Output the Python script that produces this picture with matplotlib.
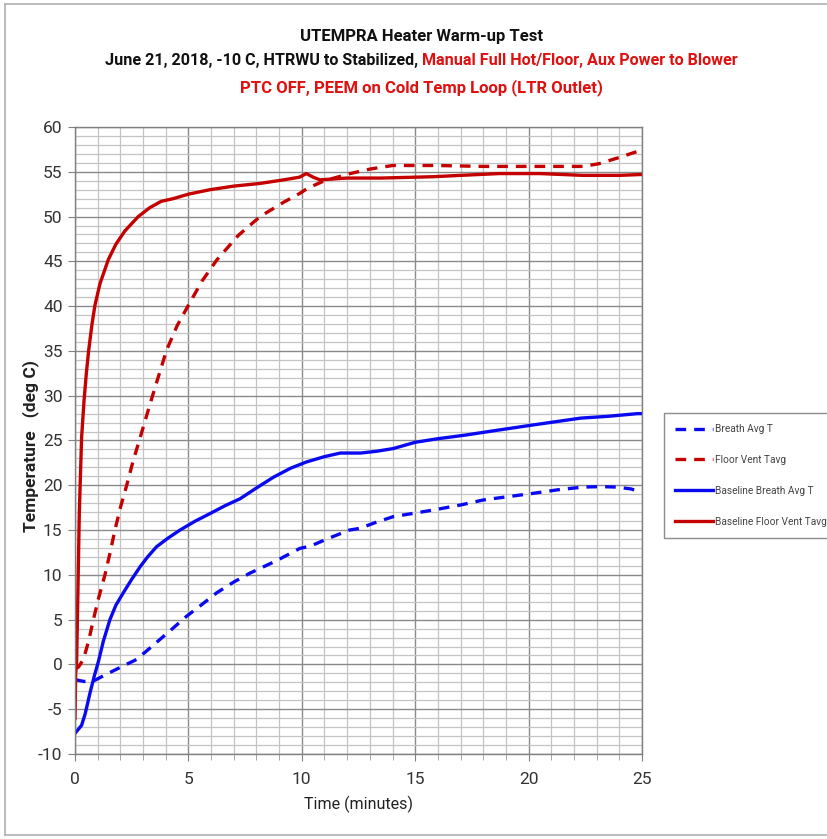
import matplotlib
matplotlib.use("Agg")
import matplotlib.pyplot as plt
from matplotlib.ticker import MultipleLocator
from matplotlib.lines import Line2D

plt.rcParams['font.family'] = ['Roboto', 'DejaVu Sans']
plt.rcParams['axes.unicode_minus'] = False

# Baseline Floor Vent Tavg (solid red)
base_floor_t = [0, 0.03, 0.07, 0.12, 0.19, 0.29, 0.4, 0.5, 0.6, 0.75, 0.88, 1.1, 1.47,
                1.8, 2.2, 2.79, 3.3, 3.8, 4.33, 5.0, 5.95, 7.0, 8.16, 9.2, 9.9, 10.2,
                10.5, 10.8, 12.0, 13.5, 15.8, 17.0, 18.7, 20.5, 22.4, 24.0, 25.0]
base_floor_v = [-6.0, -1.0, 0.2, 7.0, 16.9, 25.3, 29.5, 32.5, 35.0, 38.0, 40.1, 42.5, 45.2,
                46.9, 48.4, 50.0, 51.0, 51.7, 52.0, 52.5, 53.0, 53.4, 53.7, 54.1, 54.4, 54.8,
                54.4, 54.1, 54.3, 54.3, 54.45, 54.6, 54.8, 54.8, 54.6, 54.6, 54.7]

# Floor Vent Tavg (dashed red)
floor_t = [0, 0.15, 0.37, 0.6, 0.81, 1.05, 1.32, 1.55, 1.76, 2.0, 2.28, 2.55, 2.87, 3.3,
           3.6, 4.04, 4.5, 5.0, 5.6, 6.25, 7.2, 8.16, 9.2, 9.92, 10.28, 11.0, 12.13, 13.0,
           14.0, 16.0, 18.0, 20.0, 22.4, 23.1, 24.0, 24.77, 25.0]
floor_v = [-0.5, -0.3, 0.56, 2.6, 5.0, 7.5, 10.0, 12.5, 15.0, 17.5, 20.0, 22.6, 25.3, 29.0,
           31.5, 35.1, 37.8, 40.1, 42.8, 45.15, 47.9, 50.0, 51.6, 52.6, 53.2, 54.0, 54.8, 55.3,
           55.7, 55.7, 55.6, 55.6, 55.6, 55.9, 56.6, 57.25, 57.4]

# Baseline Breath Avg T (solid blue)
base_breath_t = [0, 0.29, 0.45, 0.66, 0.85, 1.03, 1.25, 1.54, 1.8, 2.13, 2.5, 2.87, 3.2,
                 3.6, 4.1, 4.63, 5.3, 5.96, 6.6, 7.28, 8.0, 8.75, 9.5, 10.2, 11.0, 11.7,
                 12.6, 13.3, 14.03, 15.0, 16.0, 17.2, 18.5, 20.1, 21.2, 22.3, 23.5, 24.8, 25.0]
base_breath_v = [-7.7, -6.8, -5.5, -3.2, -1.3, 0.3, 2.6, 5.0, 6.6, 8.0, 9.5, 10.9, 12.0,
                 13.15, 14.1, 15.0, 16.0, 16.85, 17.7, 18.5, 19.7, 20.9, 21.9, 22.6, 23.2, 23.6,
                 23.6, 23.8, 24.1, 24.8, 25.2, 25.6, 26.1, 26.7, 27.1, 27.5, 27.7, 28.0, 28.0]

# Breath Avg T (dashed blue)
breath_t = [0, 0.4, 0.81, 1.54, 2.1, 2.72, 3.2, 3.75, 4.3, 4.93, 5.6, 6.25, 7.0, 7.72, 8.9,
            9.92, 10.37, 11.2, 12.1, 12.57, 13.2, 14.03, 15.0, 15.8, 17.0, 18.0, 19.0, 20.2,
            21.3, 22.4, 23.2, 23.87, 24.5, 24.9]
breath_v = [-1.7, -1.9, -1.85, -0.9, -0.2, 0.56, 1.6, 2.8, 4.0, 5.4, 6.7, 8.0, 9.2, 10.2, 11.6,
            12.96, 13.2, 14.1, 15.0, 15.2, 15.8, 16.5, 16.9, 17.24, 17.8, 18.36, 18.7, 19.1,
            19.5, 19.8, 19.85, 19.8, 19.6, 19.3]

RED = '#C40000'
BLUE = '#0A0AF0'
W, H = 827, 839

fig = plt.figure(figsize=(W / 100, H / 100), dpi=100)
ax = fig.add_axes([75 / W, 1 - 754 / H, (642 - 75) / W, (754 - 127) / H])

ax.plot(breath_t, breath_v, color=BLUE, lw=2.4, dashes=(3.2, 2.4), label='Breath Avg T')
ax.plot(floor_t, floor_v, color=RED, lw=2.4, dashes=(3.2, 2.4), label='Floor Vent Tavg')
ax.plot(base_breath_t, base_breath_v, color=BLUE, lw=2.4, label='Baseline Breath Avg T')
ax.plot(base_floor_t, base_floor_v, color=RED, lw=2.4, label='Baseline Floor Vent Tavg')

ax.set_xlim(0, 25)
ax.set_ylim(-10, 60)
ax.xaxis.set_major_locator(MultipleLocator(5))
ax.xaxis.set_minor_locator(MultipleLocator(1))
ax.yaxis.set_major_locator(MultipleLocator(5))
ax.yaxis.set_minor_locator(MultipleLocator(1))
ax.grid(which='major', color='#8a8a8a', lw=1.0)
ax.grid(which='minor', color='#c4c4c4', lw=0.9)
ax.set_axisbelow(True)
for s in ax.spines.values():
    s.set_color('#808080')
    s.set_linewidth(1.0)
ax.tick_params(which='major', direction='out', length=5, color='#808080',
               labelsize=12.5, labelcolor='#333333')
ax.tick_params(axis='x', which='major', pad=8)
ax.tick_params(axis='y', which='major', pad=4)
ax.tick_params(axis='y', which='minor', length=0)
ax.tick_params(axis='x', which='minor', direction='out', length=4, color='#999999')

ax.set_xlabel('Time (minutes)', fontsize=11.5, color='#222222', labelpad=6)
fig.text(31 / W, 1 - 446 / H, 'Temperature   (deg C)', rotation=90, fontsize=12.5,
         fontweight='bold', ha='center', va='center', color='#222222')

leg = ax.legend(loc='upper left', bbox_to_anchor=(664 / W, 1 - 413 / H),
                bbox_transform=fig.transFigure, fontsize=7.3, frameon=True,
                fancybox=False, edgecolor='#707070', handlelength=3.7,
                labelspacing=2.05, borderpad=1.1, handletextpad=0.25,
                borderaxespad=0)
leg.get_frame().set_linewidth(1.0)
for t in leg.get_texts():
    t.set_color('#444444')

# titles
cx = 0.51
fig.text(cx, 1 - 37 / H, 'UTEMPRA Heater Warm-up Test', ha='center', va='center',
         fontsize=12, fontweight='bold', color='#111111')
part1 = 'June 21, 2018, -10 C, HTRWU to Stabilized, '
part2 = 'Manual Full Hot/Floor, Aux Power to Blower'
t1 = fig.text(0, 1 - 61 / H, part1, ha='left', va='center', fontsize=11.6,
              fontweight='bold', color='#111111')
t2 = fig.text(0, 1 - 61 / H, part2, ha='left', va='center', fontsize=11.6,
              fontweight='bold', color='#E01010')
fig.canvas.draw()
r = fig.canvas.get_renderer()
w1 = t1.get_window_extent(r).width / W
w2 = t2.get_window_extent(r).width / W
x0 = cx - (w1 + w2) / 2
t1.set_x(x0)
t2.set_x(x0 + w1)
fig.text(cx, 1 - 88 / H, 'PTC OFF, PEEM on Cold Temp Loop (LTR Outlet)', ha='center',
         va='center', fontsize=12, fontweight='bold', color='#E01010')

# outer frame of the picture
for xs, ys in [([5 / W, 5 / W], [1 - 4 / H, 1 - 835 / H]),
               ([5 / W, 1], [1 - 4 / H, 1 - 4 / H]),
               ([5 / W, 1], [1 - 835 / H, 1 - 835 / H])]:
    fig.add_artist(Line2D(xs, ys, color='#b0b0b0', lw=1.2, transform=fig.transFigure))

fig.savefig('out.png', dpi=100)
